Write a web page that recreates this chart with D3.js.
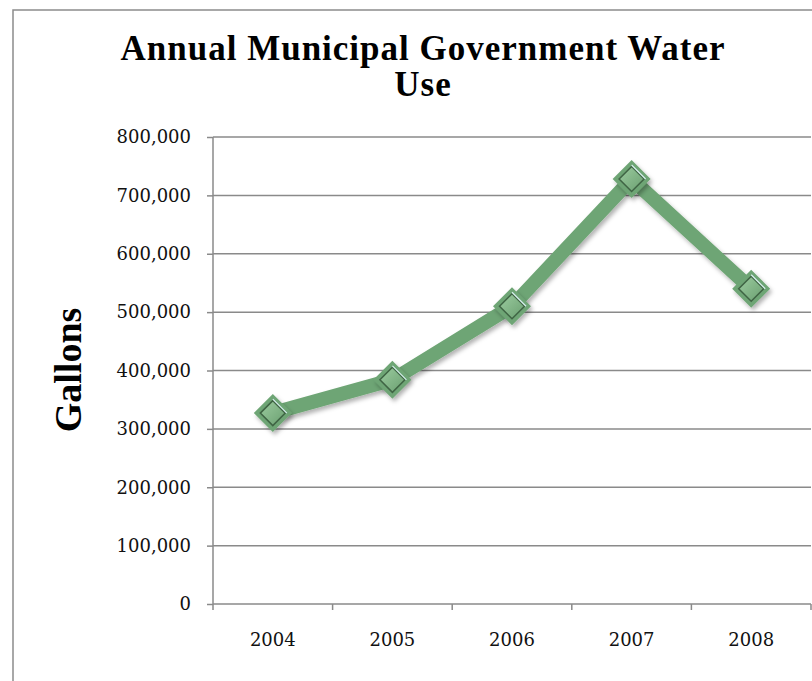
<!DOCTYPE html>
<html>
<head>
<meta charset="utf-8">
<script src="https://cdn.jsdelivr.net/npm/d3@7"></script>
<style>
  html, body { margin: 0; padding: 0; background: #fff; }
  svg { display: block; }
</style>
</head>
<body>
<svg id="chart" width="812" height="681"></svg>
<script>
const years = ["2004", "2005", "2006", "2007", "2008"];
const gallons = [327000, 384000, 510000, 728000, 540000];
const yTicks = [0, 100000, 200000, 300000, 400000, 500000, 600000, 700000, 800000];
const titleLines = ["Annual Municipal Government Water", "Use"];
const yTitle = "Gallons";

(function () {
const svg = d3.select("#chart");
const pLeft = 213, pRight = 811, pTop = 137, pBottom = 604;

const lineColor = "#6ea574";

// chart frame
svg.append("rect").attr("x", 13).attr("y", 10).attr("width", 900).attr("height", 800)
  .attr("fill", "#fff").attr("stroke", "#8c8c8c").attr("stroke-width", 1.5);

const defs = svg.append("defs");
const grad = defs.append("linearGradient").attr("id", "mk").attr("x1", "0").attr("y1", "0").attr("x2", "1").attr("y2", "1");
grad.append("stop").attr("offset", "0%").attr("stop-color", "#9ccca0");
grad.append("stop").attr("offset", "100%").attr("stop-color", "#6a9f70");
const filt = defs.append("filter").attr("id", "shadow").attr("x", "-50%").attr("y", "-50%").attr("width", "200%").attr("height", "200%");
filt.append("feDropShadow").attr("dx", 2).attr("dy", 3).attr("stdDeviation", 2).attr("flood-color", "#000").attr("flood-opacity", 0.3);

const x = d3.scaleBand().domain(years).range([pLeft, pRight]).padding(0);
const y = d3.scaleLinear().domain([0, 800000]).range([pBottom, pTop]);

// gridlines
svg.append("g").selectAll("line").data(yTicks.filter(d => d > 0)).join("line")
  .attr("x1", pLeft).attr("x2", pRight)
  .attr("y1", d => y(d)).attr("y2", d => y(d))
  .attr("stroke", "#8a8a8a").attr("stroke-width", 1.5);

// y axis
const yAxis = svg.append("g").attr("transform", `translate(${pLeft},0)`)
  .call(d3.axisLeft(y).tickValues(yTicks).tickFormat(d3.format(",")).tickSize(6).tickPadding(16));
yAxis.select(".domain").remove();
yAxis.selectAll(".tick line").attr("stroke", "#8a8a8a").attr("stroke-width", 1.5);
yAxis.selectAll(".tick text").attr("font-family", "'DejaVu Serif', serif").attr("font-size", 18)
  .attr("fill", "#111");
svg.append("line").attr("x1", pLeft).attr("x2", pLeft).attr("y1", pTop).attr("y2", pBottom + 6)
  .attr("stroke", "#8a8a8a").attr("stroke-width", 1.5);

// x axis
svg.append("line").attr("x1", pLeft).attr("x2", pRight).attr("y1", pBottom).attr("y2", pBottom)
  .attr("stroke", "#8a8a8a").attr("stroke-width", 1.5);
const bounds = years.map(d => x(d)).concat([x.range()[1]]);
svg.append("g").selectAll("line").data(bounds.slice(1)).join("line")
  .attr("x1", d => d).attr("x2", d => d).attr("y1", pBottom).attr("y2", pBottom + 6)
  .attr("stroke", "#8a8a8a").attr("stroke-width", 1.5);
svg.append("g").selectAll("text").data(years).join("text")
  .attr("x", d => x(d) + x.bandwidth() / 2).attr("y", 646)
  .attr("text-anchor", "middle")
  .attr("font-family", "'DejaVu Serif', serif").attr("font-size", 18).attr("fill", "#111")
  .text(d => d);

// title
svg.append("g").selectAll("text").data(titleLines).join("text")
  .attr("x", 423).attr("y", (d, i) => 60 + i * 36)
  .attr("text-anchor", "middle")
  .attr("font-family", "'Liberation Serif', serif").attr("font-weight", "bold").attr("font-size", 35)
  .attr("letter-spacing", 1)
  .attr("fill", "#000").text(d => d);

// y title
svg.append("text").attr("transform", "translate(81,370) rotate(-90)")
  .attr("text-anchor", "middle")
  .attr("font-family", "'Liberation Serif', serif").attr("font-weight", "bold").attr("font-size", 38)
  .attr("fill", "#000").text(yTitle);

// line
const pts = years.map((d, i) => [x(d) + x.bandwidth() / 2, y(gallons[i])]);
svg.append("path").datum(pts)
  .attr("d", d3.line())
  .attr("fill", "none").attr("stroke", lineColor).attr("stroke-width", 14)
  .attr("stroke-linejoin", "round").attr("filter", "url(#shadow)");

// markers
const mk = svg.append("g").selectAll("g").data(pts).join("g")
  .attr("transform", d => `translate(${d[0]},${d[1]})`);
const diamond = r => `M0,${-r}L${r},0L0,${r}L${-r},0Z`;
mk.append("path").attr("d", diamond(19)).attr("fill", lineColor).attr("filter", "url(#shadow)");
mk.append("path").attr("d", diamond(12.5)).attr("fill", "url(#mk)")
  .attr("stroke", "#3f6444").attr("stroke-width", 1.5);
mk.append("path").attr("d", "M0,-14L14,0").attr("stroke", "#d8f0f0").attr("stroke-width", 1.2).attr("fill", "none");
})();
</script>
</body>
</html>
